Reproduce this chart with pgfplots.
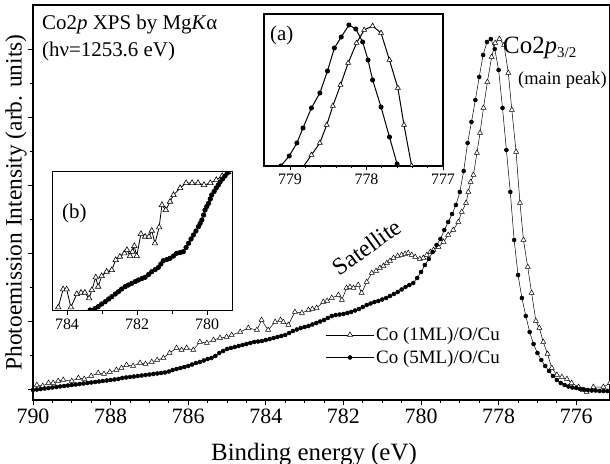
\documentclass[border=0pt]{standalone}
\usepackage{pgfplots}
\pgfplotsset{compat=1.18}
\usepackage{fontspec}
\setmainfont{Liberation Serif}
\begin{document}
\begin{tikzpicture}
\path[use as bounding box] (-33bp,-64bp) rectangle (577bp,400bp);
\begin{axis}[
 at={(0,0)}, anchor=south west,
 scale only axis, width=577bp, height=395bp,
 x dir=reverse, xmin=775.13, xmax=790, ymin=0, ymax=395,
 xtick={776,778,...,790}, minor x tick num=3,
 ytick={11,79,147,215,283,351}, minor y tick num=1, yticklabels={},
 xtick pos=bottom, ytick pos=left,
 tick align=outside, major tick length=5bp, minor tick length=3bp,
 every tick/.style={black, line width=0.8bp},
 axis line style={line width=1.2bp},
 /pgf/number format/assume math mode=true,
 /pgf/number format/set thousands separator={},
 xticklabel style={font=\fontsize{22}{24}\selectfont, inner sep=0pt, anchor=north, yshift=-4bp},
 every axis x label/.style={at={(axis description cs:0.487,0)}, anchor=base, yshift=-60bp, font=\fontsize{25}{28}\selectfont},
 every axis y label/.style={at={(axis description cs:-0.0295,0.5)}, rotate=90, anchor=center, font=\fontsize{23.5}{27}\selectfont},
 xlabel={Binding energy (eV)},
 ylabel={Photoemission Intensity (arb. units)},
 legend style={draw=none, fill=none, at={(axis description cs:0.507,0.189)}, anchor=north west, font=\fontsize{19}{21}\selectfont, row sep=4bp, inner sep=0pt},
 legend cell align=left,
 legend image code/.code={\draw[mark repeat=2,mark phase=2] plot coordinates {(0bp,0bp) (24bp,0bp) (48bp,0bp)};},
]
\addplot[black, line width=0.5bp, mark=triangle*, mark size=3, mark options={fill=white, line width=0.5bp}] coordinates {
(789.9,15) (789.75,14) (789.6,17) (789.48,17) (789.35,19) (789.22,20) (789.0,19) (788.83,22) (788.68,21) (788.5,24)
(788.32,27) (788.17,26) (788.02,28) (787.85,30) (787.72,32) (787.59,35) (787.42,34) (787.24,37) (787.1,36) (786.94,38)
(786.8,40) (786.64,42) (786.48,47) (786.30,52) (786.17,50) (786.04,52) (785.87,50) (785.70,58) (785.52,57) (785.35,60)
(785.18,62) (785.01,63) (784.88,65) (784.66,68) (784.45,72) (784.23,70) (784.11,80) (783.94,70) (783.76,78) (783.62,80)
(783.55,78) (783.42,75) (783.25,88) (783.07,87) (782.90,90) (782.80,91) (782.69,92) (782.52,98) (782.42,99) (782.30,102)
(782.13,105) (782.04,100) (781.92,112) (781.83,113) (781.74,112) (781.62,115) (781.53,107) (781.40,118) (781.27,127) (781.16,129)
(781.06,132) (780.97,134) (780.88,137) (780.80,139) (780.71,142) (780.60,144) (780.50,145) (780.41,146) (780.33,147) (780.24,145)
(780.15,143) (780.03,141) (779.94,142) (779.85,145) (779.76,148) (779.68,150) (779.55,153) (779.42,158) (779.30,165) (779.17,170)
(779.04,178) (778.95,188) (778.84,197) (778.78,208) (778.72,218) (778.65,225) (778.56,247) (778.48,267) (778.39,292) (778.29,318)
(778.18,343) (778.09,357) (777.98,361) (777.86,355) (777.75,327) (777.66,290) (777.55,248) (777.45,197) (777.36,160) (777.25,133)
(777.15,107) (777.04,79) (776.95,72) (776.85,58) (776.74,46) (776.63,32) (776.50,25) (776.37,23) (776.24,21) (776.12,17)
(775.94,13) (775.83,10) (775.73,8) (775.56,13) (775.30,13) (775.13,17)
};
\addlegendentry{Co (1ML)/O/Cu}
\addplot[black, line width=0.5bp, mark=*, mark size=2] coordinates {
(790.0,10) (789.9,10.5) (789.8,11) (789.7,11.5) (789.6,12) (789.5,12.5) (789.4,13) (789.3,13.5) (789.2,14) (789.1,14.5)
(789.0,15) (788.9,15.5) (788.8,16) (788.7,16.5) (788.6,17) (788.5,17.5) (788.4,18) (788.3,18.5) (788.2,19) (788.1,19.5)
(788.0,20) (787.9,20.5) (787.8,21) (787.7,22) (787.6,22.5) (787.5,23) (787.4,23.5) (787.3,24) (787.2,24.5) (787.1,25)
(787.0,25.5) (786.9,26) (786.8,26.5) (786.7,27) (786.6,27.5) (786.5,28.5) (786.4,30) (786.3,31) (786.2,32) (786.1,33)
(786.0,34) (785.9,35.5) (785.8,37) (785.7,38) (785.6,39.5) (785.5,41) (785.4,42) (785.3,44) (785.2,47) (785.1,49)
(785.0,51) (784.9,52) (784.8,53) (784.7,54) (784.6,55) (784.5,56) (784.4,57) (784.3,58) (784.2,58.5) (784.1,59)
(784.0,60) (783.9,61) (783.8,62) (783.7,63) (783.6,64) (783.5,65) (783.4,67) (783.3,69) (783.2,70.5) (783.1,72)
(783.0,73) (782.9,74) (782.8,75.5) (782.7,77) (782.6,78.5) (782.5,80) (782.4,82) (782.3,84) (782.2,85) (782.1,85.5)
(782.0,86) (781.9,87) (781.8,88) (781.7,89.5) (781.6,91) (781.5,93) (781.4,95) (781.3,96.5) (781.2,98) (781.1,99)
(781.0,100.5) (780.9,102) (780.8,104) (780.7,106) (780.6,108) (780.5,110.5) (780.4,113) (780.3,115) (780.2,117) (780.1,122)
(780.0,128) (779.9,135) (779.8,141) (779.7,148) (779.6,155) (779.5,161) (779.4,170) (779.3,178) (779.2,186) (779.1,195)
(779.0,208) (778.9,229) (778.8,257) (778.7,278) (778.6,300) (778.5,323) (778.4,345) (778.3,358) (778.2,361) (778.1,351)
(778.0,330) (777.9,292) (777.8,250) (777.7,208) (777.6,160) (777.5,125) (777.4,102) (777.3,84) (777.2,68) (777.1,56)
(777.0,47) (776.9,40) (776.8,34) (776.7,29) (776.6,24) (776.5,20) (776.4,17) (776.3,15) (776.2,13.5) (776.1,12.5)
(776.0,12) (775.9,11) (775.8,10.5) (775.7,10) (775.6,9.5) (775.5,9.5) (775.4,9) (775.3,9) (775.2,9) (775.1,9)
};
\addlegendentry{Co (5ML)/O/Cu}
\end{axis}
% inset (a)
\begin{axis}[
 at={(231bp,234bp)}, anchor=south west,
 scale only axis, width=179bp, height=152bp,
 x dir=reverse, xmin=777.0, xmax=779.34, ymin=0, ymax=152,
 xtick={777,778,779}, minor x tick num=4, ytick=\empty,
 xtick pos=bottom, tick align=outside, major tick length=4bp, minor tick length=2.5bp,
 every tick/.style={black, line width=0.7bp},
 axis line style={line width=1.1bp},
 axis background/.style={fill=white},
 clip marker paths=true,
 /pgf/number format/assume math mode=true,
 xticklabel style={font=\fontsize{16}{18}\selectfont, inner sep=0pt, anchor=north, yshift=-4bp},
]
\addplot[black, line width=1bp, mark=triangle*, mark size=2.9, mark options={fill=white, line width=0.6bp}] coordinates {
(778.83,-1) (778.72,11) (778.61,23) (778.52,41) (778.44,60) (778.34,81) (778.24,103) (778.13,123) (778.03,136) (777.92,140)
(777.81,133) (777.70,106) (777.59,78) (777.51,41) (777.41,0)
};
\addplot[black, line width=1bp, mark=*, mark size=2] coordinates {
(779.12,0) (779.01,10) (778.91,23) (778.83,38) (778.72,58) (778.61,73) (778.51,95) (778.42,118) (778.33,129) (778.23,141)
(778.14,137) (778.05,124) (777.98,106) (777.92,86) (777.81,59) (777.70,29) (777.60,2) (777.50,-28)
};
\end{axis}
% inset (b)
\begin{axis}[
 at={(20bp,89bp)}, anchor=south west,
 scale only axis, width=179bp, height=139bp,
 x dir=reverse, xmin=779.29, xmax=784.4, ymin=0, ymax=139,
 xtick={780,782,784}, minor x tick num=1, ytick=\empty,
 xtick pos=bottom, tick align=outside, major tick length=4bp, minor tick length=2.5bp,
 every tick/.style={black, line width=0.7bp},
 axis line style={line width=1bp},
 axis background/.style={fill=white},
 clip marker paths=true,
 /pgf/number format/assume math mode=true,
 xticklabel style={font=\fontsize{16}{18}\selectfont, inner sep=0pt, anchor=north, yshift=-4bp},
]
\addplot[black, line width=0.8bp, mark=triangle*, mark size=3.2, mark options={fill=white, line width=0.6bp}] coordinates {
(784.25,3.7) (784.11,21.7) (784.01,21.7) (783.89,3.7) (783.72,17) (783.60,18.3) (783.49,18.3) (783.37,12.7) (783.29,21) (783.18,33.7)
(783.11,24.3) (783.01,35) (782.87,39.3) (782.72,41) (782.61,51) (782.49,54.3) (782.36,57.7) (782.29,61) (782.20,55) (782.13,59.3)
(782.08,65) (782.01,55) (781.89,77) (781.77,74.3) (781.66,74.3) (781.58,80.3) (781.49,67.7) (781.37,83.7) (781.29,106) (781.18,101)
(781.06,109.3) (780.96,116) (780.77,123) (780.60,128) (780.43,128) (780.26,128) (780.09,126) (779.91,128) (779.74,131) (779.57,135)
(779.40,139) (779.31,143)
};
\addplot[black, line width=0.6bp, mark=*, mark size=2.3] coordinates {
(783.40,-2) (783.34,1) (783.29,0.3) (783.20,2.5) (783.11,4.3) (783.01,7) (782.91,9.3) (782.81,12) (782.72,14.3) (782.62,17)
(782.53,19.3) (782.44,22) (782.34,24.3) (782.25,26) (782.15,27.7) (782.05,29.5) (781.96,31) (781.86,32.5) (781.77,33.7) (781.67,36.5)
(781.58,39.3) (781.48,41.5) (781.39,43.7) (781.32,47) (781.25,50.3) (781.15,51.5) (781.06,52.7) (780.96,55) (780.87,57.7) (780.77,58.5)
(780.68,59.3) (780.60,63.5) (780.53,67.7) (780.46,72) (780.39,76) (780.32,80) (780.25,84.3) (780.20,87.5) (780.15,91) (780.10,96)
(780.06,101) (780.01,104.5) (779.96,107.7) (779.91,112) (779.87,116) (779.80,119.5) (779.74,123) (779.68,126) (779.63,129) (779.56,132)
(779.49,135) (779.42,138) (779.34,141)
};
\end{axis}
% annotations
\node[anchor=base west, inner sep=0pt, font=\fontsize{21}{24}\selectfont] at (9bp,370bp) {Co2\textit{p} XPS by Mg\textit{K}α};
\node[anchor=base west, inner sep=0pt, font=\fontsize{21}{24}\selectfont] at (9bp,343bp) {(hν=1253.6 eV)};
\node[anchor=base west, inner sep=0pt, font=\fontsize{21}{24}\selectfont] at (237bp,359bp) {(a)};
\node[anchor=base west, inner sep=0pt, font=\fontsize{21}{24}\selectfont] at (29bp,181bp) {(b)};
\node[anchor=base west, inner sep=0pt, font=\fontsize{25}{28}\selectfont] at (470bp,346.7bp) {Co2\textit{p}\raisebox{-0.4ex}{\fontsize{15}{16}\selectfont 3/2}};
\node[anchor=base west, inner sep=0pt, font=\fontsize{18.5}{21}\selectfont] at (485bp,315bp) {(main peak)};
\node[rotate=35.5, inner sep=0pt, font=\fontsize{24}{27}\selectfont] at (333.7bp,153bp) {Satellite};
\end{tikzpicture}
\end{document}
